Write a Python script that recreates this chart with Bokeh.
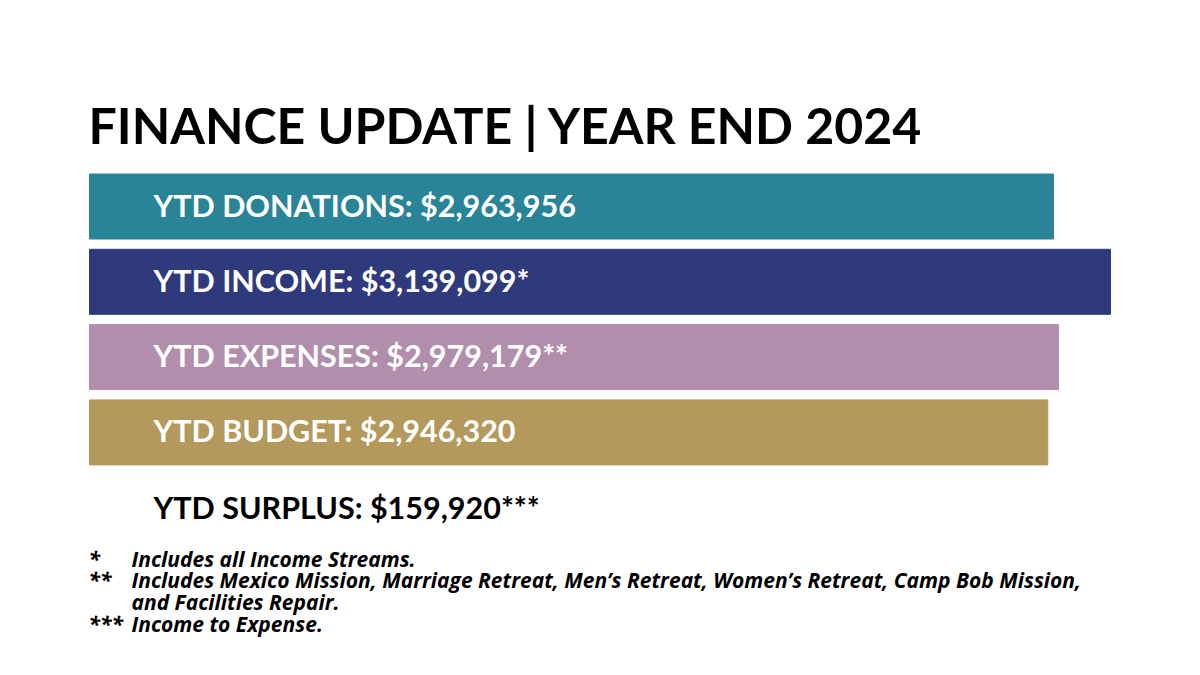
from bokeh.plotting import figure
from bokeh.models import Range1d, ColumnDataSource
from bokeh.core.properties import value
from bokeh.embed import file_html
from bokeh.resources import INLINE

# ---- data ----
categories = ["YTD DONATIONS", "YTD INCOME", "YTD EXPENSES", "YTD BUDGET"]
amounts = [2963956, 3139099, 2979179, 2946320]
marks = ["", "*", "**", ""]
colors = ["#2A8497", "#2E3A7C", "#B18FAC", "#B39A5C"]
surplus_label = "YTD SURPLUS"
surplus_amount = 159920
surplus_mark = "***"
title_text = "FINANCE UPDATE | YEAR END 2024"
note_marks = ["*", "**", "", "***"]
note_texts = [
    "Includes all Income Streams.",
    "Includes Mexico Mission, Marriage Retreat, Men\u2019s Retreat, Women\u2019s Retreat, Camp Bob Mission,",
    "and Facilities Repair.",
    "Income to Expense.",
]

# ---- layout ----
W, H = 1184, 659
left_px = 89          # pixel position of zero
k = 3074.6            # value units per pixel
FONT = "Lato"

p = figure(width=W, height=H, output_backend="svg", toolbar_location=None,
           x_range=Range1d(-left_px * k, (W - left_px) * k),
           y_range=Range1d(H, 0), min_border=0)
p.axis.visible = False
p.grid.visible = False
p.outline_line_color = None
p.background_fill_color = "white"
p.border_fill_color = "white"

y0, pitch, bh = 206, 75.3, 65
ys = [y0 + i * pitch for i in range(len(categories))]
labels = [f"{c}: ${a:,}{m}" for c, a, m in zip(categories, amounts, marks)]
src = ColumnDataSource(dict(y=ys, ty=[y - 2 for y in ys], right=amounts, color=colors,
                            label=labels, zero=[0] * len(amounts)))
p.hbar(y="y", left="zero", right="right", height=bh, color="color", source=src)
p.text(x="zero", y="ty", text="label", source=src, x_offset=64, text_color="white",
       text_font=value(FONT), text_font_style="bold", text_font_size="30.5px",
       text_baseline="middle", text_align="left")

ys_s = y0 + len(categories) * pitch - 1
p.text(x=[0], y=[ys_s], text=[f"{surplus_label}: ${surplus_amount:,}{surplus_mark}"],
       x_offset=64, text_color="black", text_font=value(FONT), text_font_style="bold",
       text_font_size="30.5px", text_baseline="middle", text_align="left")

p.text(x=[0], y=[124], text=[title_text], x_offset=-1, text_color="black",
       text_font=value(FONT), text_font_style="bold", text_font_size="50px",
       text_baseline="middle", text_align="left")

note_y = [558, 579, 601, 623]
p.text(x=[0] * 4, y=note_y, text=note_marks, x_offset=-1, text_color="black",
       text_font=value("Open Sans"), text_font_style="bold italic", text_font_size="21px",
       text_baseline="middle", text_align="left")
p.text(x=[0] * 4, y=note_y, text=note_texts, x_offset=42, text_color="black",
       text_font=value("Open Sans"), text_font_style="bold italic", text_font_size="21px",
       text_baseline="middle", text_align="left")

open("out.html", "w").write(file_html(p, INLINE))
